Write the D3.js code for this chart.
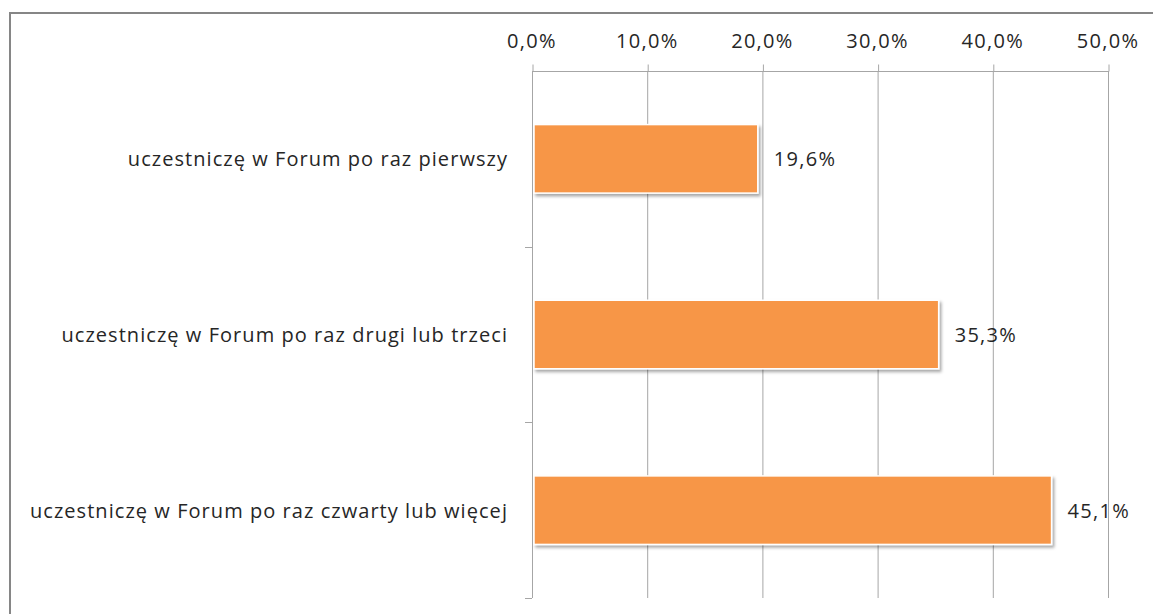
<!DOCTYPE html>
<html><head><meta charset="utf-8">
<script src="https://cdn.jsdelivr.net/npm/d3@7"></script>
<style>
html,body{margin:0;padding:0;background:#fff;}
svg{display:block;}
text{font-family:"Open Sans",sans-serif;fill:#262626;}
</style></head>
<body>
<svg id="chart" width="1153" height="614"></svg>
<script>
const categories = [
  "uczestniczę w Forum po raz pierwszy",
  "uczestniczę w Forum po raz drugi lub trzeci",
  "uczestniczę w Forum po raz czwarty lub więcej"
];
const values = [19.6, 35.3, 45.1];
const tickValues = [0, 10, 20, 30, 40, 50];
const tickLabels = ["0,0%", "10,0%", "20,0%", "30,0%", "40,0%", "50,0%"];
const valueLabels = ["19,6%", "35,3%", "45,1%"];

(function(){
const svg = d3.select("#chart");
const W = 1153, H = 614;
const pL = 532, pR = 1108, pT = 71, pB = 598;

const defs = svg.append("defs");
const f = defs.append("filter").attr("id","sh").attr("x","-5%").attr("y","-20%").attr("width","115%").attr("height","150%");
f.append("feDropShadow").attr("dx",2).attr("dy",2.5).attr("stdDeviation",1.6).attr("flood-color","#000").attr("flood-opacity",0.35);

// outer frame
svg.append("path").attr("d", `M10,${H+5} L10,13 L${W+5},13`).attr("fill","none").attr("stroke","#868686").attr("stroke-width",2);

const x = d3.scaleLinear().domain([0, 50]).range([pL, pR]);
const y = d3.scaleBand().domain(categories).range([pT, pB]).paddingInner(0.61).paddingOuter(0.305);

// gridlines
svg.append("g").selectAll("line").data(tickValues.slice(1)).join("line")
  .attr("x1", d => x(d)+0.5).attr("x2", d => x(d)+0.5)
  .attr("y1", pT).attr("y2", pB)
  .attr("stroke", "#a6a6a6").attr("stroke-width", 1);

// top axis
const xAxis = d3.axisTop(x).tickValues(tickValues).tickSize(7).tickPadding(16.5)
  .tickFormat((d,i) => tickLabels[i]);
const gx = svg.append("g").attr("transform", `translate(0.5,${pT+0.5})`).call(xAxis);
gx.select(".domain").attr("stroke","#a6a6a6").attr("d", `M${pL-0.5},0H${pR+0.5}`);
gx.selectAll(".tick line").attr("stroke","#a6a6a6");
gx.selectAll(".tick text").attr("font-size", 20).attr("letter-spacing", "1.3px")
  .attr("font-family","Open Sans").attr("fill","#262626").attr("dx", -1);

// left axis with ticks at band boundaries
const boundaries = categories.map((c,i)=> pT + (i+1)*(pB-pT)/categories.length);
svg.append("line").attr("x1", pL+0.5).attr("x2", pL+0.5).attr("y1", pT).attr("y2", pB).attr("stroke","#a6a6a6");
svg.append("g").selectAll("line").data(boundaries).join("line")
  .attr("x1", pL-7).attr("x2", pL).attr("y1", d => Math.round(d)+0.5).attr("y2", d => Math.round(d)+0.5)
  .attr("stroke","#a6a6a6");

// category labels
svg.append("g").selectAll("text").data(categories).join("text")
  .attr("x", 508).attr("y", d => y(d) + y.bandwidth()/2)
  .attr("text-anchor","end").attr("dominant-baseline","central")
  .attr("font-size", 20).attr("letter-spacing","1.05px").text(d => d);

// bars
svg.append("g").selectAll("rect").data(values).join("rect")
  .attr("x", x(0)+2).attr("y", (d,i) => y(categories[i]))
  .attr("width", d => x(d) - x(0) - 2).attr("height", y.bandwidth())
  .attr("fill", "#F79646").attr("stroke","#fff").attr("stroke-width",1.5)
  .attr("filter","url(#sh)");

// value labels
svg.append("g").selectAll("text").data(values).join("text")
  .attr("x", d => x(d) + 16).attr("y", (d,i) => y(categories[i]) + y.bandwidth()/2)
  .attr("dominant-baseline","central")
  .attr("font-size", 20).attr("letter-spacing","1.3px").text((d,i) => valueLabels[i]);
})();
</script>
</body></html>
